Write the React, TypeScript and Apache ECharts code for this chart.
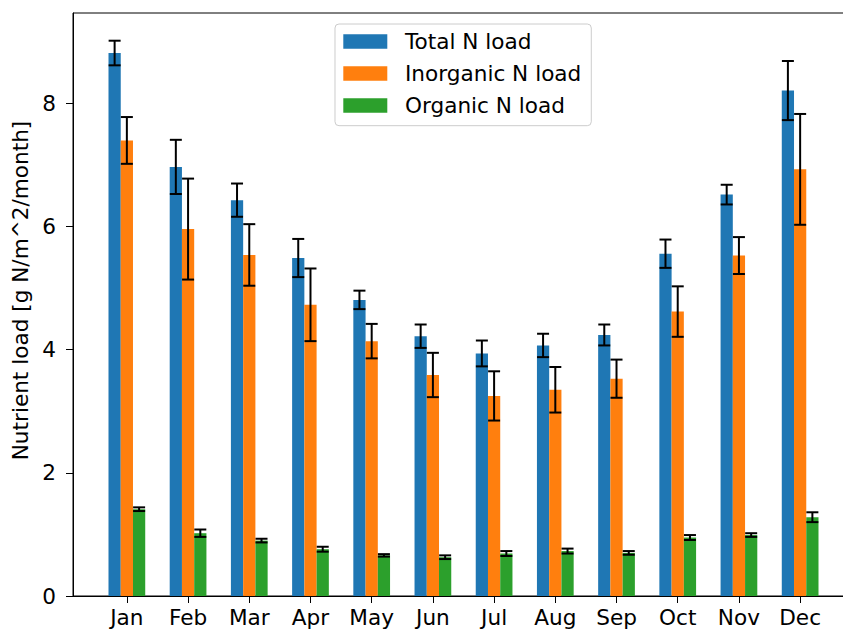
import React, { useEffect, useRef } from "react";
import * as echarts from "echarts";

const months = ["Jan", "Feb", "Mar", "Apr", "May", "Jun", "Jul", "Aug", "Sep", "Oct", "Nov", "Dec"];
const seriesNames = ["Total N load", "Inorganic N load", "Organic N load"];
const totalN = [8.82, 6.97, 6.43, 5.49, 4.81, 4.22, 3.94, 4.07, 4.24, 5.56, 6.52, 8.21];
const totalErr = [0.2, 0.44, 0.27, 0.31, 0.15, 0.19, 0.21, 0.19, 0.17, 0.23, 0.16, 0.48];
const inorgN = [7.4, 5.96, 5.54, 4.73, 4.14, 3.59, 3.25, 3.35, 3.53, 4.62, 5.53, 6.93];
const inorgErr = [0.38, 0.82, 0.5, 0.59, 0.28, 0.36, 0.4, 0.37, 0.31, 0.41, 0.3, 0.9];
const orgN = [1.41, 1.02, 0.9, 0.76, 0.66, 0.63, 0.69, 0.73, 0.7, 0.95, 0.99, 1.28];
const orgErr = [0.03, 0.06, 0.03, 0.04, 0.02, 0.03, 0.04, 0.04, 0.03, 0.04, 0.03, 0.08];
const yTicks = [0, 2, 4, 6, 8];

const colors = ["#1f77b4", "#ff7f0e", "#2ca02c"];
const BAR_W = 0.2;
const CAP = 6;
const FS = 21.6;

function makeRender(offset: number, color: string) {
  return (_params: any, api: any) => {
    const i = api.value(0);
    const v = api.value(1);
    const e = api.value(2);
    const p0 = api.coord([i + offset - BAR_W / 2, v]);
    const p1 = api.coord([i + offset + BAR_W / 2, 0]);
    const c = api.coord([i + offset, v]);
    const top = api.coord([i + offset, v + e]);
    const bot = api.coord([i + offset, v - e]);
    const errStyle = { stroke: "#000", lineWidth: 2 };
    return {
      type: "group",
      children: [
        {
          type: "rect",
          shape: { x: p0[0], y: p0[1], width: p1[0] - p0[0], height: p1[1] - p0[1] },
          style: { fill: color },
        },
        { type: "line", shape: { x1: c[0], y1: top[1], x2: c[0], y2: bot[1] }, style: errStyle },
        { type: "line", shape: { x1: c[0] - CAP, y1: top[1], x2: c[0] + CAP, y2: top[1] }, style: errStyle },
        { type: "line", shape: { x1: c[0] - CAP, y1: bot[1], x2: c[0] + CAP, y2: bot[1] }, style: errStyle },
      ],
    };
  };
}

export default function App() {
  const ref = useRef<HTMLDivElement>(null);
  useEffect(() => {
    if (!ref.current) return;
    const chart = echarts.init(ref.current, undefined, { renderer: "svg" });
    const groups = [
      { vals: totalN, errs: totalErr, off: -0.2 },
      { vals: inorgN, errs: inorgErr, off: 0 },
      { vals: orgN, errs: orgErr, off: 0.2 },
    ];
    chart.setOption({
      animation: false,
      color: colors,
      textStyle: { fontFamily: "DejaVu Sans" },
      grid: {
        left: 73,
        top: 13,
        width: 781,
        height: 583,
        show: true,
        borderColor: "#000",
        borderWidth: 1,
        backgroundColor: "transparent",
        outerBoundsMode: "none",
        containLabel: false,
      },
      legend: {
        orient: "vertical",
        left: 335,
        top: 24,
        padding: [6.4, 10, 9.1, 8.3],
        itemWidth: 44,
        itemHeight: 14.5,
        itemGap: 10.1,
        icon: "rect",
        backgroundColor: "#fff",
        borderColor: "#cccccc",
        borderWidth: 1,
        borderRadius: 4,
        data: seriesNames,
        textStyle: {
          fontSize: FS,
          color: "#000",
          padding: [0, 0, 0, 12.7],
          fontFamily: "DejaVu Sans",
        },
      },
      xAxis: {
        type: "value",
        min: -0.88,
        max: 11.88,
        splitLine: { show: false },
        axisLine: { onZero: false, lineStyle: { color: "#000", width: 1 } },
        axisTick: {
          show: true,
          length: 7,
          lineStyle: { color: "#000" },
          customValues: months.map((_, i) => i),
        },
        axisLabel: {
          fontSize: FS,
          color: "#000",
          margin: 10,
          customValues: months.map((_, i) => i),
          formatter: (v: number) => months[Math.round(v)] ?? "",
        },
      },
      yAxis: {
        type: "value",
        min: 0,
        max: 9.47,
        name: "Nutrient load [g N/m^2/month]",
        nameLocation: "middle",
        nameGap: 37,
        nameTextStyle: { fontSize: FS, color: "#000", fontFamily: "DejaVu Sans", padding: [0, 0, 0, 28] },
        splitLine: { show: false },
        axisLine: { show: true, onZero: false, lineStyle: { color: "#000", width: 1 } },
        axisTick: { show: true, length: 7, lineStyle: { color: "#000" }, customValues: yTicks },
        axisLabel: { fontSize: FS, color: "#000", margin: 17, customValues: yTicks },
      },
      series: groups.map((g, k) => ({
        type: "custom",
        name: seriesNames[k],
        itemStyle: { color: colors[k] },
        renderItem: makeRender(g.off, colors[k]),
        encode: { x: 0, y: 1 },
        data: g.vals.map((v, i) => [i, v, g.errs[i]]),
        z: 2,
      })),
    });
    return () => chart.dispose();
  }, []);
  return <div ref={ref} style={{ position: "absolute", left: 0, top: 0, width: 843, height: 632 }} />;
}
